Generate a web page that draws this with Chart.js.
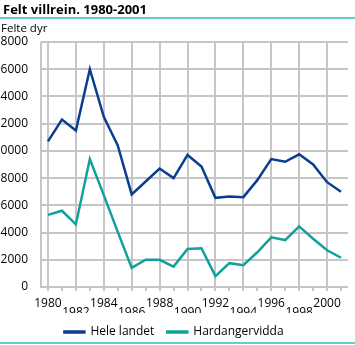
<!DOCTYPE html>
<html>
<head>
<meta charset="utf-8">
<script src="https://cdn.jsdelivr.net/npm/chart.js@4"></script>
<style>
  html, body { margin: 0; padding: 0; background: #fff; }
  #wrap { width: 355px; height: 345px; position: relative; }
</style>
</head>
<body>
<div id="wrap"><canvas id="myChart" width="355" height="345"></canvas></div>
<script>
// data
const years = [1980, 1981, 1982, 1983, 1984, 1985, 1986, 1987, 1988, 1989, 1990,
  1991, 1992, 1993, 1994, 1995, 1996, 1997, 1998, 1999, 2000, 2001];
const heleLandet = [10700, 12300, 11500, 16000, 12500, 10400, 6800, 7750, 8700, 8000, 9700,
  8850, 6550, 6650, 6600, 7850, 9400, 9200, 9750, 9000, 7700, 7000];
const hardangervidda = [5300, 5600, 4600, 9400, 6750, 4050, 1400, 2000, 2000, 1500, 2800,
  2850, 800, 1750, 1600, 2550, 3650, 3450, 4450, 3550, 2700, 2150];
const seriesNames = ['Hele landet', 'Hardangervidda'];
const yMax = 18000;
const yStep = 2000;
const titleText = 'Felt villrein. 1980-2001';
const unitText = 'Felte dyr';

const gridGrey = '#c6c6c6';
const font = 'Open Sans';

Chart.defaults.color = '#000';
Chart.defaults.font.family = font;

// grid lines, axis line and tick marks, placed by the chart's own scales
const gridPlugin = {
  id: 'gridLines',
  beforeDatasetsDraw(chart) {
    const c = chart.ctx;
    const a = chart.chartArea;
    const x = chart.scales.x;
    const y = chart.scales.y;
    c.save();
    c.fillStyle = gridGrey;
    y.ticks.forEach(t => {
      const py = Math.round(y.getPixelForValue(t.value));
      c.fillRect(a.left, py - 1, a.right - a.left, 2);
    });
    x.ticks.forEach((t, i) => {
      const px = Math.round(x.getPixelForValue(t.value));
      const top = (i % 2 === 0) ? a.top : a.bottom;
      c.fillRect(px - 1, top, 2, a.bottom + 4 - top);
    });
    c.fillRect(Math.round(a.left) - 1, a.top, 2, a.bottom - a.top + 1);
    c.restore();
  }
};

// title, unit text and the teal rules
const framePlugin = {
  id: 'frame',
  afterDraw(chart) {
    const c = chart.ctx;
    c.save();
    c.fillStyle = '#000';
    c.textBaseline = 'alphabetic';
    c.textAlign = 'left';
    c.font = 'bold 13px "' + font + '"';
    c.fillText(titleText, 3, 14);
    c.font = '11.5px "' + font + '"';
    c.fillText(unitText, 1, 32);
    c.fillStyle = '#66cccc';
    c.fillRect(0, 17, chart.width, 2);
    c.fillRect(0, 342, chart.width, 2);
    c.restore();
  }
};

var ctx = document.getElementById('myChart').getContext('2d');
var villreinChart = new Chart(ctx, {
  type: 'line',
  data: {
    labels: years,
    datasets: [{
      label: seriesNames[0],
      data: heleLandet,
      borderColor: '#0b3d91',
      backgroundColor: '#0b3d91',
      borderWidth: 2.5,
      pointRadius: 0
    }, {
      label: seriesNames[1],
      data: hardangervidda,
      borderColor: '#12a09a',
      backgroundColor: '#12a09a',
      borderWidth: 2.5,
      pointRadius: 0
    }]
  },
  options: {
    responsive: false,
    animation: false,
    layout: { padding: { top: 42, right: 7, left: 0, bottom: 0 } },
    scales: {
      x: {
        type: 'category',
        offset: true,
        afterFit(scale) { scale.height = 26; },
        border: { display: false },
        grid: { display: false },
        ticks: {
          autoSkip: false,
          maxRotation: 0,
          padding: 4,
          font: { size: 12, lineHeight: 0.75 },
          callback(v, i) {
            if (i % 2 !== 0) return '';
            const lab = String(years[i]);
            return (i % 4 === 0) ? lab : ['', lab];
          }
        }
      },
      y: {
        min: 0,
        max: yMax,
        afterFit(scale) { scale.width = 41; },
        border: { display: false },
        grid: { display: false },
        ticks: {
          stepSize: yStep,
          padding: 5,
          font: { size: 12 },
          callback: v => String(v)
        }
      }
    },
    plugins: {
      legend: {
        position: 'bottom',
        maxHeight: 32,
        labels: {
          boxWidth: 20,
          boxHeight: 1,
          padding: 13,
          font: { size: 12 }
        }
      }
    }
  },
  plugins: [gridPlugin, framePlugin]
});
</script>
</body>
</html>
